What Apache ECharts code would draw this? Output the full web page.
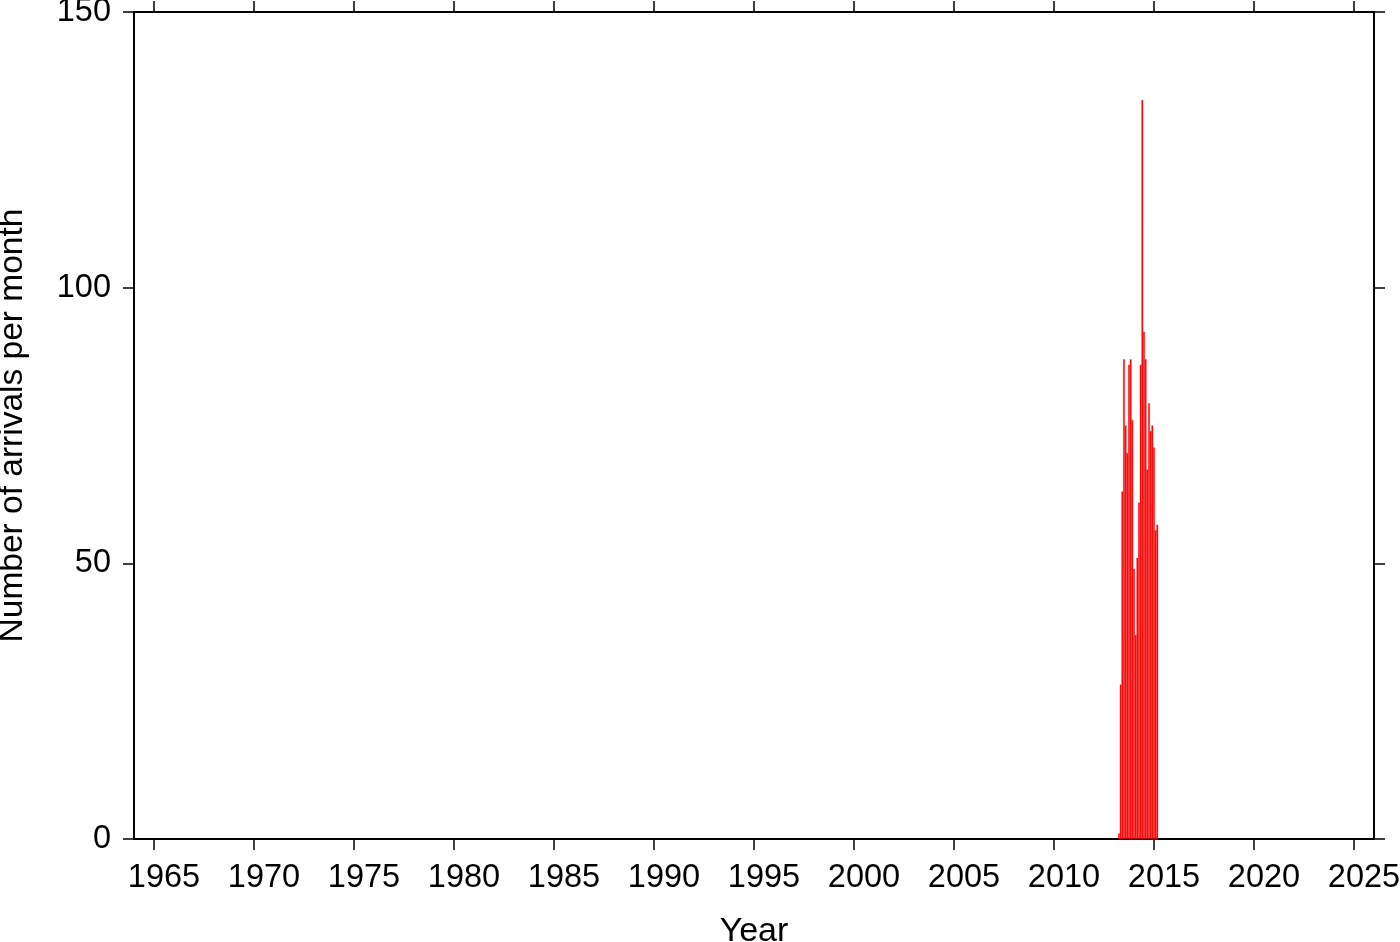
<!DOCTYPE html>
<html>
<head>
<meta charset="utf-8">
<script src="https://cdn.jsdelivr.net/npm/echarts@6/dist/echarts.min.js"></script>
<style>
html,body{margin:0;padding:0;background:#fff;}
#chart{width:1400px;height:942px;}
</style>
</head>
<body>
<div id="chart"></div>
<script>
// Monthly bins (year-month) and arrivals per month
const months = ['2013-04','2013-05','2013-06','2013-07','2013-08','2013-09','2013-10','2013-11','2013-12',
                '2014-01','2014-02','2014-03','2014-04','2014-05','2014-06','2014-07','2014-08','2014-09',
                '2014-10','2014-11','2014-12','2015-01','2015-02','2015-03'];
const arrivals = [1, 28, 63, 87, 75, 70, 86, 87, 76, 49, 37, 51, 61, 86, 134, 92, 87, 67, 79, 74, 75, 71, 56, 57];
const yearTicks = [1965,1970,1975,1980,1985,1990,1995,2000,2005,2010,2015,2020,2025];
const countTicks = [0, 50, 100, 150];

function monthToYear(s){
  const [y, m] = s.split('-').map(Number);
  return y + (m - 1) / 12;
}
const barData = months.map((m, i) => [monthToYear(m), arrivals[i]]);
// year labels are centred over their one-year interval
const yearLabelPos = yearTicks.map(y => y + 0.5);

const FONT = 'Liberation Sans, Arial, Helvetica, sans-serif';
const chart = echarts.init(document.getElementById('chart'), null, {renderer: 'canvas'});
const lineStyle = {color: '#000', width: 2};
const tickStyle = {color: '#000', width: 1.5};

chart.setOption({
  backgroundColor: '#fff',
  animation: false,
  grid: {left: 134, top: 12, width: 1240, height: 827, containLabel: false, outerBoundsMode: 'none'},
  xAxis: [{
    type: 'value', min: 1964, max: 2026, position: 'bottom',
    name: 'Year', nameLocation: 'middle', nameGap: 76,
    nameTextStyle: {fontFamily: FONT, fontSize: 34, color: '#000'},
    axisLine: {show: true, onZero: false, lineStyle: lineStyle},
    axisTick: {show: true, length: 11, lineStyle: tickStyle, customValues: yearTicks},
    axisLabel: {show: true, margin: 23, fontFamily: FONT, fontSize: 32.5, color: '#000',
                customValues: yearLabelPos, formatter: v => String(Math.floor(v))},
    splitLine: {show: false}
  }, {
    type: 'value', min: 1964, max: 2026, position: 'top',
    axisLine: {show: true, onZero: false, lineStyle: lineStyle},
    axisTick: {show: true, length: 11, lineStyle: tickStyle, customValues: yearTicks},
    axisLabel: {show: false},
    splitLine: {show: false}
  }],
  yAxis: [{
    type: 'value', min: 0, max: 150, position: 'left',
    name: 'Number of arrivals per month', nameLocation: 'middle', nameGap: 104, nameRotate: 90,
    nameTextStyle: {fontFamily: FONT, fontSize: 33.5, color: '#000'},
    axisLine: {show: true, onZero: false, lineStyle: lineStyle},
    axisTick: {show: true, length: 11, lineStyle: tickStyle, customValues: countTicks},
    axisLabel: {show: true, margin: 23, fontFamily: FONT, fontSize: 32.5, color: '#000',
                customValues: countTicks, formatter: v => String(v)},
    splitLine: {show: false}
  }, {
    type: 'value', min: 0, max: 150, position: 'right',
    axisLine: {show: true, onZero: false, lineStyle: lineStyle},
    axisTick: {show: true, length: 11, lineStyle: tickStyle, customValues: countTicks},
    axisLabel: {show: false},
    splitLine: {show: false}
  }],
  series: [{
    type: 'bar',
    xAxisIndex: 0, yAxisIndex: 0,
    data: barData,
    barWidth: 1.67,
    itemStyle: {color: '#ff1010', borderColor: '#e00000', borderWidth: 0.3},
    emphasis: {disabled: true}
  }]
});
</script>
</body>
</html>
